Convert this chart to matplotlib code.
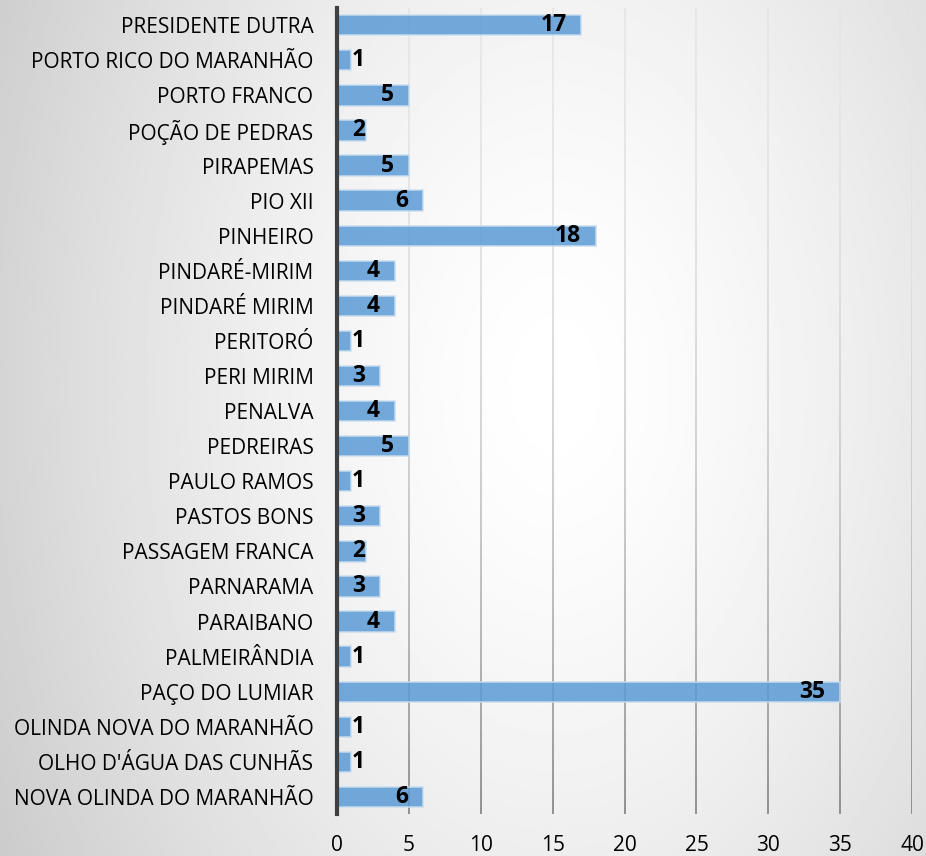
import matplotlib.pyplot as plt
import numpy as np
from matplotlib.collections import LineCollection

plt.rcParams['font.family'] = ['Open Sans', 'DejaVu Sans']

# Dados
municipios = [
    'PRESIDENTE DUTRA', 'PORTO RICO DO MARANHÃO', 'PORTO FRANCO', 'POÇÃO DE PEDRAS',
    'PIRAPEMAS', 'PIO XII', 'PINHEIRO', 'PINDARÉ-MIRIM', 'PINDARÉ MIRIM', 'PERITORÓ',
    'PERI MIRIM', 'PENALVA', 'PEDREIRAS', 'PAULO RAMOS', 'PASTOS BONS',
    'PASSAGEM FRANCA', 'PARNARAMA', 'PARAIBANO', 'PALMEIRÂNDIA', 'PAÇO DO LUMIAR',
    'OLINDA NOVA DO MARANHÃO', "OLHO D'ÁGUA DAS CUNHÃS", 'NOVA OLINDA DO MARANHÃO',
]
valores = [17, 1, 5, 2, 5, 6, 18, 4, 4, 1, 3, 4, 5, 1, 3, 2, 3, 4, 1, 35, 1, 1, 6]
x_ticks = [0, 5, 10, 15, 20, 25, 30, 35, 40]

fig = plt.figure(figsize=(9.26, 8.56), dpi=100)

# Fundo com gradiente radial (branco no centro, cinza nas bordas)
bg = fig.add_axes([0, 0, 1, 1], zorder=-10)
yy, xx = np.mgrid[0:1:400j, 0:1:400j]
d = np.sqrt((xx - 0.6) ** 2 + ((yy - 0.55) * 0.6) ** 2)
g = 1.0 - 0.2 * np.clip(d / 0.68, 0, 1.1) ** 1.5
bg.imshow(g, cmap='gray', vmin=0, vmax=1, origin='lower', extent=[0, 1, 0, 1], aspect='auto')
bg.axis('off')

ax = fig.add_axes([0.364, 0.0485, 0.621, 0.9425])
ax.patch.set_alpha(0)

n = len(municipios)
y = np.arange(n)

# Linhas de grade com gradiente vertical (claras em cima, escuras embaixo)
ys = np.linspace(-0.5, n - 0.5, 60)
segs, cols = [], []
for xt in x_ticks[1:]:
    for k in range(len(ys) - 1):
        segs.append([(xt, ys[k]), (xt, ys[k + 1])])
        t = (k + 0.5) / (len(ys) - 1)
        c = 0.9 - 0.4 * t ** 2.2
        cols.append((c, c, c))
ax.add_collection(LineCollection(segs, colors=cols, linewidths=1.2, zorder=1))

ax.barh(y, valores, height=0.58, color='#5B9BD5', alpha=0.85,
        edgecolor='#C9DDF0', linewidth=1.2, zorder=3)

for yi, v in zip(y, valores):
    if v >= 3:
        ax.annotate(str(v), (v, yi), xytext=(-15, 0), textcoords='offset pixels',
                    ha='right', va='center', fontsize=16.5, fontweight='bold', color='black', zorder=4)
    else:
        ax.annotate(str(v), (1.02, yi), xytext=(0, 0), textcoords='offset pixels',
                    ha='left', va='center', fontsize=16.5, fontweight='bold', color='black', zorder=4)

ax.set_ylim(n - 0.5, -0.5)
ax.set_xlim(0, 40)
ax.set_yticks(y)
ax.set_yticklabels(municipios, fontsize=15)
ax.set_xticks(x_ticks)
ax.set_xticklabels([str(t) for t in x_ticks], fontsize=15)
ax.tick_params(axis='y', length=0, pad=17)
ax.tick_params(axis='x', length=0, pad=15)
for s in ['top', 'right', 'bottom']:
    ax.spines[s].set_visible(False)
ax.spines['left'].set_color('#404040')
ax.spines['left'].set_linewidth(3)
ax.spines['left'].set_zorder(5)

fig.savefig('out.png', dpi=100)
